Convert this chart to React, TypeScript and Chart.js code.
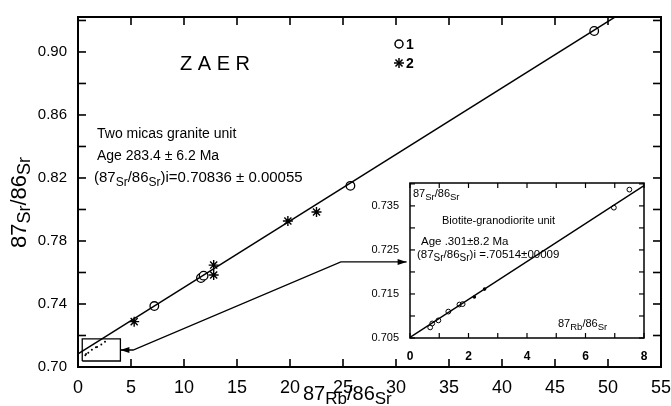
import React, { useEffect, useRef } from "react";
import { Chart, registerables } from "chart.js";
Chart.register(...registerables);

const FONT = '"Liberation Sans", Arial, Helvetica, sans-serif';

// ---- main diagram: 87Rb/86Sr (x) vs 87Sr/86Sr (y) ----
const circleRb = [7.2, 11.6, 11.85, 25.7, 48.7];
const circleSr = [0.7387, 0.7565, 0.758, 0.815, 0.9133];
const starRb = [5.3, 12.8, 12.8, 19.8, 22.5];
const starSr = [0.7288, 0.7584, 0.7647, 0.7927, 0.7984];
const fitRb = [0, 51];
const fitSr = [0.70836, 0.9236];
const boxRb = [0.4, 4.0, 4.0, 0.4, 0.4];
const boxSr = [0.7038, 0.7038, 0.7178, 0.7178, 0.7038];
const arrowRb = [4.0, 5.2, 24.8, 31.0];
const arrowSr = [0.7108, 0.7108, 0.7667, 0.7667];
const mainXTicks = [0, 5, 10, 15, 20, 25, 30, 35, 40, 45, 50, 55];
const mainYTicks = [0.7, 0.72, 0.74, 0.76, 0.78, 0.8, 0.82, 0.84, 0.86, 0.88, 0.9, 0.92];
const mainYLabels = [0.7, 0.74, 0.78, 0.82, 0.86, 0.9];

// ---- inset: biotite-granodiorite unit ----
const insetCircleRb = [0.69, 0.76, 0.97, 1.31, 1.69, 1.8, 6.97, 7.5];
const insetCircleSr = [0.7074, 0.7083, 0.709, 0.711, 0.7126, 0.7127, 0.7346, 0.7387];
const insetDotRb = [2.2, 2.55];
const insetDotSr = [0.7143, 0.7161];
const insetFitRb = [0, 8];
const insetFitSr = [0.70514, 0.7396];
const insetXTicks = [0, 1, 2, 3, 4, 5, 6, 7, 8];
const insetXLabels = [0, 2, 4, 6, 8];
const insetYTicks = [0.705, 0.71, 0.715, 0.72, 0.725, 0.73, 0.735, 0.74];
const insetYLabels = [0.705, 0.715, 0.725, 0.735];

type Part = { t: string; s: number; dy?: number; b?: boolean };
function rich(ctx: CanvasRenderingContext2D, parts: Part[], x: number, y: number, rot = 0) {
  ctx.save();
  ctx.translate(x, y);
  ctx.rotate(rot);
  ctx.fillStyle = "#000";
  ctx.textAlign = "left";
  ctx.textBaseline = "alphabetic";
  let cx = 0;
  for (const p of parts) {
    ctx.font = `${p.b ? "bold " : ""}${p.s}px ${FONT}`;
    ctx.fillText(p.t, cx, p.dy || 0);
    cx += ctx.measureText(p.t).width;
  }
  ctx.restore();
}

const has = (arr: number[], v: number) => arr.some((a) => Math.abs(a - v) < 1e-6);
const pts = (xs: number[], ys: number[]) => xs.map((x, i) => ({ x, y: ys[i] }));

function line(ctx: CanvasRenderingContext2D, x1: number, y1: number, x2: number, y2: number) {
  ctx.beginPath();
  ctx.moveTo(x1, y1);
  ctx.lineTo(x2, y2);
  ctx.stroke();
}

function arrowHead(ctx: CanvasRenderingContext2D, tx: number, ty: number, fx: number, fy: number) {
  const a = Math.atan2(ty - fy, tx - fx);
  const L = 9, W = 3;
  ctx.beginPath();
  ctx.moveTo(tx, ty);
  ctx.lineTo(tx - L * Math.cos(a) + W * Math.sin(a), ty - L * Math.sin(a) - W * Math.cos(a));
  ctx.lineTo(tx - L * Math.cos(a) - W * Math.sin(a), ty - L * Math.sin(a) + W * Math.cos(a));
  ctx.closePath();
  ctx.fill();
}

function framePlugin(id: string, len: number, lw: number, tw: number, xt: number[], yt: number[]) {
  return {
    id,
    afterDraw(chart: any) {
      const { ctx, chartArea, scales } = chart;
      const { left, right, top, bottom } = chartArea;
      ctx.save();
      ctx.strokeStyle = "#000";
      ctx.lineWidth = lw;
      ctx.strokeRect(left, top, right - left, bottom - top);
      ctx.lineWidth = tw;
      for (const v of xt) {
        const px = scales.x.getPixelForValue(v);
        line(ctx, px, bottom, px, bottom - len);
        line(ctx, px, top, px, top + len);
      }
      for (const v of yt) {
        const py = scales.y.getPixelForValue(v);
        line(ctx, left, py, left + len, py);
        line(ctx, right, py, right - len, py);
      }
      ctx.restore();
    },
  };
}

const mainDecor = {
  id: "mainDecor",
  afterDraw(chart: any) {
    const { ctx, scales } = chart;
    const { x, y } = scales;
    ctx.save();
    ctx.fillStyle = "#000";
    const n = arrowRb.length;
    arrowHead(ctx, x.getPixelForValue(arrowRb[0]), y.getPixelForValue(arrowSr[0]),
      x.getPixelForValue(arrowRb[1]), y.getPixelForValue(arrowSr[1]));
    arrowHead(ctx, x.getPixelForValue(arrowRb[n - 1]), y.getPixelForValue(arrowSr[n - 1]),
      x.getPixelForValue(arrowRb[n - 2]), y.getPixelForValue(arrowSr[n - 2]));

    rich(ctx, [{ t: "Z A E R", s: 20 }], 180, 70);
    rich(ctx, [{ t: "Two micas granite unit", s: 14 }], 97, 138);
    rich(ctx, [{ t: "Age 283.4 ± 6.2 Ma", s: 14 }], 97, 160);
    rich(ctx, [
      { t: "(87", s: 15 }, { t: "Sr", s: 12, dy: 4 }, { t: "/86", s: 15 }, { t: "Sr", s: 12, dy: 4 },
      { t: ")i=0.70836 ± 0.00055", s: 15 },
    ], 94, 182);

    ctx.strokeStyle = "#000";
    ctx.lineWidth = 1.5;
    ctx.beginPath();
    ctx.arc(399, 44, 4, 0, Math.PI * 2);
    ctx.stroke();
    for (let k = 0; k < 4; k++) {
      const a = (k * Math.PI) / 4;
      line(ctx, 399 - 5 * Math.cos(a), 63 - 5 * Math.sin(a), 399 + 5 * Math.cos(a), 63 + 5 * Math.sin(a));
    }
    rich(ctx, [{ t: "1", s: 14, b: true }], 406, 49);
    rich(ctx, [{ t: "2", s: 14, b: true }], 406, 68);

    rich(ctx, [{ t: "87", s: 22 }, { t: "Sr", s: 18, dy: 4 }, { t: "/86", s: 22 }, { t: "Sr", s: 18, dy: 4 }],
      26, 248, -Math.PI / 2);
    rich(ctx, [{ t: "87", s: 20 }, { t: "Rb", s: 17, dy: 4 }, { t: "/86", s: 20 }, { t: "Sr", s: 17, dy: 4 }],
      303, 400);
    ctx.restore();
  },
};

const insetDecor = {
  id: "insetDecor",
  afterDraw(chart: any) {
    const { ctx } = chart;
    rich(ctx, [{ t: "87", s: 11 }, { t: "Sr", s: 9.5, dy: 3 }, { t: "/86", s: 11 }, { t: "Sr", s: 9.5, dy: 3 }], 43, 22);
    rich(ctx, [{ t: "Biotite-granodiorite unit", s: 11 }], 72, 49);
    rich(ctx, [{ t: "Age .301±8.2 Ma", s: 11.5 }], 51, 70);
    rich(ctx, [
      { t: "(87", s: 11.5 }, { t: "Sr", s: 10, dy: 3 }, { t: "/86", s: 11.5 }, { t: "Sr", s: 10, dy: 3 },
      { t: ")i =.70514±00009", s: 11.5 },
    ], 47, 83);
    rich(ctx, [{ t: "87", s: 11 }, { t: "Rb", s: 9.5, dy: 3 }, { t: "/86", s: 11 }, { t: "Sr", s: 9.5, dy: 3 }], 188, 152);
  },
};

const lineDs = (data: any[], w: number) => ({
  data, showLine: true, borderColor: "#000", borderWidth: w, pointRadius: 0, fill: false, tension: 0,
});

export default function App() {
  const mainRef = useRef<HTMLCanvasElement>(null);
  const insetRef = useRef<HTMLCanvasElement>(null);

  useEffect(() => {
    const main = new Chart(mainRef.current!, {
      type: "scatter",
      data: {
        datasets: [
          lineDs(pts(fitRb, fitSr), 1.5),
          lineDs(pts(boxRb, boxSr), 1.3),
          lineDs(pts(arrowRb, arrowSr), 1.3),
          {
            data: pts(insetCircleRb, insetCircleSr).concat(pts(insetDotRb, insetDotSr)).filter((p) => p.x < boxRb[1]),
            pointRadius: 1, backgroundColor: "#000", borderColor: "#000", borderWidth: 0,
          },
          {
            data: pts(circleRb, circleSr), pointStyle: "circle", pointRadius: 4.3,
            backgroundColor: "#fff", borderColor: "#000", borderWidth: 1.3,
          },
          {
            data: pts(starRb, starSr), pointStyle: "star", pointRadius: 5,
            backgroundColor: "#000", borderColor: "#000", borderWidth: 1.4,
          },
        ] as any,
      },
      options: {
        animation: false,
        responsive: false,
        events: [],
        layout: { padding: { left: 0, right: 10, top: 17, bottom: 0 } },
        plugins: { legend: { display: false }, tooltip: { enabled: false } },
        scales: {
          x: {
            type: "linear", min: 0, max: 55,
            afterBuildTicks: (s: any) => { s.ticks = mainXTicks.map((v) => ({ value: v })); },
            afterFit: (s: any) => { s.height = 39; s.paddingRight = 0; s.paddingLeft = 0; },
            grid: { display: false }, border: { display: false },
            ticks: {
              color: "#000", font: { family: FONT, size: 18 }, padding: 2,
              autoSkip: false, maxRotation: 0, callback: (v: any) => String(v),
            },
          },
          y: {
            type: "linear", min: 0.7, max: 0.9222,
            afterBuildTicks: (s: any) => { s.ticks = mainYTicks.map((v) => ({ value: v })); },
            afterFit: (s: any) => { s.width = 78; s.paddingTop = 0; s.paddingBottom = 0; },
            grid: { display: false }, border: { display: false },
            ticks: {
              color: "#000", font: { family: FONT, size: 15 }, padding: 3, autoSkip: false,
              callback: (v: any) => (has(mainYLabels, v) ? Number(v).toFixed(2) : ""),
            },
          },
        },
      } as any,
      plugins: [framePlugin("mainFrame", 8, 2, 1.6, mainXTicks, mainYTicks), mainDecor],
    });

    const inset = new Chart(insetRef.current!, {
      type: "scatter",
      data: {
        datasets: [
          lineDs(pts(insetFitRb, insetFitSr), 1.3),
          {
            data: pts(insetCircleRb, insetCircleSr), pointStyle: "circle", pointRadius: 2.4,
            backgroundColor: "#fff", borderColor: "#000", borderWidth: 1,
          },
          {
            data: pts(insetDotRb, insetDotSr), pointStyle: "circle", pointRadius: 1.8,
            backgroundColor: "#000", borderColor: "#000", borderWidth: 0,
          },
        ] as any,
      },
      options: {
        animation: false,
        responsive: false,
        events: [],
        layout: { padding: { left: 0, right: 11, top: 8, bottom: 0 } },
        plugins: { legend: { display: false }, tooltip: { enabled: false } },
        scales: {
          x: {
            type: "linear", min: 0, max: 8,
            afterBuildTicks: (s: any) => { s.ticks = insetXTicks.map((v) => ({ value: v })); },
            afterFit: (s: any) => { s.height = 22; s.paddingRight = 0; s.paddingLeft = 0; },
            grid: { display: false }, border: { display: false },
            ticks: {
              color: "#000", font: { family: FONT, size: 12, weight: "bold" }, padding: 3,
              autoSkip: false, maxRotation: 0,
              callback: (v: any) => (has(insetXLabels, v) ? String(v) : ""),
            },
          },
          y: {
            type: "linear", min: 0.705, max: 0.7402,
            afterBuildTicks: (s: any) => { s.ticks = insetYTicks.map((v) => ({ value: v })); },
            afterFit: (s: any) => { s.width = 40; s.paddingTop = 0; s.paddingBottom = 0; },
            grid: { display: false }, border: { display: false },
            ticks: {
              color: "#000", font: { family: FONT, size: 11 }, padding: 3, autoSkip: false,
              callback: (v: any) => (has(insetYLabels, v) ? Number(v).toFixed(3) : ""),
            },
          },
        },
      } as any,
      plugins: [framePlugin("insetFrame", 5, 1.5, 1.2, insetXTicks, insetYTicks), insetDecor],
    });

    return () => {
      main.destroy();
      inset.destroy();
    };
  }, []);

  return (
    <div style={{ position: "fixed", left: 0, top: 0, width: 671, height: 406, background: "#fff" }}>
      <canvas ref={mainRef} width={671} height={406} style={{ position: "absolute", left: 0, top: 0, width: 671, height: 406 }} />
      <canvas ref={insetRef} width={285} height={185} style={{ position: "absolute", left: 370, top: 175, width: 285, height: 185 }} />
    </div>
  );
}
